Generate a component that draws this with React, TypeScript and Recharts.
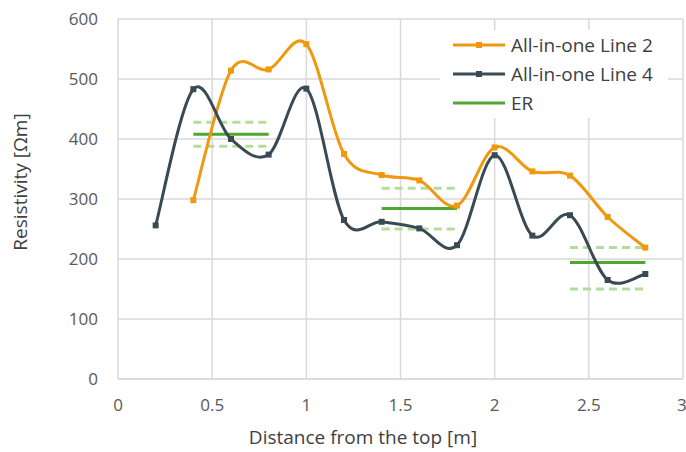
import React from 'react';
import { LineChart, Line, XAxis, YAxis, CartesianGrid, Legend } from 'recharts';

const distances = [0.2, 0.4, 0.6, 0.8, 1.0, 1.2, 1.4, 1.6, 1.8, 2.0, 2.2, 2.4, 2.6, 2.8];
const line2Values = [null, 298, 514, 516, 558, 375, 340, 331, 289, 386, 346, 339, 270, 219];
const line4Values = [256, 483, 400, 374, 484, 265, 262, 251, 223, 373, 239, 273, 165, 175];

const erFrom = [0.4, 1.4, 2.4];
const erTo = [0.8, 1.8, 2.8];
const erMean = [408, 284, 194];
const erHigh = [428, 318, 219];
const erLow = [388, 250, 150];

const xTicks = [0, 0.5, 1, 1.5, 2, 2.5, 3];
const yTicks = [0, 100, 200, 300, 400, 500, 600];

const ORANGE = '#F0980F';
const DARK = '#3A4A55';
const GREEN = '#4EA72E';
const LIGHTGREEN = '#B2DD9A';
const FONT = '"Open Sans", "Noto Sans", sans-serif';

const toSeries = (vals: (number | null)[]) =>
  distances.map((x, i) => ({ x, y: vals[i] })).filter((d) => d.y !== null);

const line2Data = toSeries(line2Values);
const line4Data = toSeries(line4Values);

const segData = (vals: number[]) => {
  const out: { x: number; y: number | null }[] = [];
  vals.forEach((v, i) => {
    out.push({ x: erFrom[i], y: v });
    out.push({ x: erTo[i], y: v });
    out.push({ x: erTo[i], y: null });
  });
  return out;
};

// Excel-like smooth curve (Catmull-Rom as cubic Bezier)
const smoothCurve = (context: any) => {
  let pts: number[][] = [];
  return {
    areaStart() {},
    areaEnd() {},
    lineStart() {
      pts = [];
    },
    point(x: number, y: number) {
      pts.push([+x, +y]);
    },
    lineEnd() {
      const n = pts.length;
      if (!n) return;
      context.moveTo(pts[0][0], pts[0][1]);
      if (n === 1) return;
      for (let i = 0; i < n - 1; i++) {
        const p0 = pts[Math.max(i - 1, 0)];
        const p1 = pts[i];
        const p2 = pts[i + 1];
        const p3 = pts[Math.min(i + 2, n - 1)];
        context.bezierCurveTo(
          p1[0] + (p2[0] - p0[0]) / 6,
          p1[1] + (p2[1] - p0[1]) / 6,
          p2[0] - (p3[0] - p1[0]) / 6,
          p2[1] - (p3[1] - p1[1]) / 6,
          p2[0],
          p2[1]
        );
      }
    },
  };
};

const squareDot = (color: string) => (props: any) => {
  const { cx, cy, index } = props;
  if (cx == null || cy == null) return <g key={`d${index}`} />;
  return <rect key={`d${index}`} x={cx - 3} y={cy - 3} width={6} height={6} fill={color} />;
};

const legendItems = [
  { name: 'All-in-one Line 2', color: ORANGE, marker: true },
  { name: 'All-in-one Line 4', color: DARK, marker: true },
  { name: 'ER', color: GREEN, marker: false },
];

const CustomLegend = () => (
  <div style={{ background: '#fff', width: 228, height: 88, fontFamily: FONT, fontSize: 19, color: '#404040' }}>
    {legendItems.map((it) => (
      <div key={it.name} style={{ display: 'flex', alignItems: 'center', height: 29, paddingLeft: 13 }}>
        <svg width={52} height={10} style={{ marginRight: 6 }}>
          <line x1={0} y1={5} x2={52} y2={5} stroke={it.color} strokeWidth={3} />
          {it.marker && <rect x={23} y={2} width={6} height={6} fill={it.color} />}
        </svg>
        <span>{it.name}</span>
      </div>
    ))}
  </div>
);

export default function App() {
  return (
    <div style={{ position: 'absolute', left: 0, top: 0, width: 686, height: 452, background: '#fff' }}>
      <LineChart width={686} height={452} margin={{ top: 19, right: 3, bottom: 0, left: 0 }}>
        <CartesianGrid stroke="#D9D9D9" strokeWidth={1.5} />
        <XAxis
          type="number"
          dataKey="x"
          domain={[0, 3]}
          ticks={xTicks}
          allowDuplicatedCategory={false}
          height={73}
          axisLine={{ stroke: '#D9D9D9', strokeWidth: 1.5 }}
          tickLine={false}
          tickSize={0}
          tickMargin={20}
          tick={{ fill: '#595959', fontSize: 17, fontFamily: FONT }}
          label={{
            value: 'Distance from the top [m]',
            content: (p: any) => {
              const vb = p.viewBox;
              return (
                <text x={363} y={vb.y + vb.height - 8} textAnchor="middle" fill="#404040" fontSize={19} fontFamily={FONT}>
                  Distance from the top [m]
                </text>
              );
            },
          }}
        />
        <YAxis
          type="number"
          domain={[0, 600]}
          ticks={yTicks}
          width={118}
          axisLine={false}
          tickLine={false}
          tickSize={0}
          tickMargin={20}
          tick={{ fill: '#595959', fontSize: 17, fontFamily: FONT }}
          label={{
            value: 'Resistivity [Ωm]',
            content: (p: any) => {
              const vb = p.viewBox;
              const cx = 27;
              const cy = vb.y + vb.height / 2 - 17;
              return (
                <text x={cx} y={cy} transform={`rotate(-90 ${cx} ${cy})`} textAnchor="middle" fill="#404040" fontSize={19} fontFamily={FONT}>
                  Resistivity [Ωm]
                </text>
              );
            },
          }}
        />
        <Legend
          layout="horizontal"
          align="center"
          verticalAlign="middle"
          content={() => <CustomLegend />}
          wrapperStyle={{ position: 'absolute', left: 440, top: 30, width: 228, height: 88 }}
        />
        <Line data={segData(erHigh)} dataKey="y" type="linear" stroke={LIGHTGREEN} strokeWidth={3} strokeDasharray="8 5" dot={false} isAnimationActive={false} legendType="none" />
        <Line data={segData(erLow)} dataKey="y" type="linear" stroke={LIGHTGREEN} strokeWidth={3} strokeDasharray="8 5" dot={false} isAnimationActive={false} legendType="none" />
        <Line data={segData(erMean)} dataKey="y" name="ER" type="linear" stroke={GREEN} strokeWidth={3} dot={false} isAnimationActive={false} />
        <Line data={line2Data} dataKey="y" name="All-in-one Line 2" type={smoothCurve as any} stroke={ORANGE} strokeWidth={3} dot={squareDot(ORANGE)} isAnimationActive={false} />
        <Line data={line4Data} dataKey="y" name="All-in-one Line 4" type={smoothCurve as any} stroke={DARK} strokeWidth={3} dot={squareDot(DARK)} isAnimationActive={false} />
      </LineChart>
    </div>
  );
}
